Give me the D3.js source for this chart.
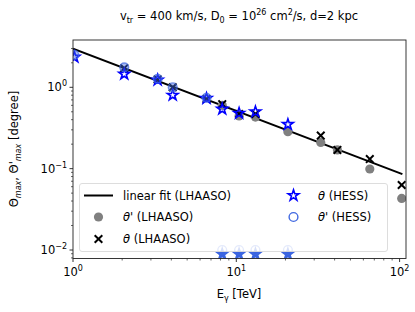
<!DOCTYPE html>
<html><head><meta charset="utf-8">
<script src="https://cdn.jsdelivr.net/npm/d3@7"></script>
<style>body{margin:0;background:#fff}svg{display:block}text{font-family:"DejaVu Sans",sans-serif;fill:#000}</style>
</head><body><svg id="c" width="415" height="312"></svg>
<script>
// Data
const fitE = [1.0, 104];
const fitTheta = [2.99, 0.0855];
const lhaasoPrimeE = [8.2, 10.4, 13.1, 20.7, 32.9, 41.6, 65.7, 103];
const lhaasoPrimeTheta = [0.60, 0.445, 0.43, 0.285, 0.21, 0.17, 0.099, 0.043];
const lhaasoE = [2.06, 3.3, 4.08, 6.57, 8.2, 10.4, 13.1, 32.9, 41.6, 65.7, 103];
const lhaasoTheta = [1.72, 1.25, 1.0, 0.72, 0.62, 0.47, 0.47, 0.255, 0.17, 0.131, 0.063];
const hessE = [1.02, 2.06, 3.3, 4.08, 6.57, 8.2, 10.4, 13.1, 20.7, 8.2, 10.4, 13.1, 20.7];
const hessTheta = [2.35, 1.45, 1.23, 0.80, 0.73, 0.54, 0.48, 0.50, 0.35, 0.0089, 0.0089, 0.0089, 0.0089];
const hessPrimeE = [1.02, 2.06, 3.3, 4.08, 6.57, 8.2, 10.4, 13.1, 20.7];
const hessPrimeTheta = [2.5, 1.76, 1.27, 1.0, 0.74, 0.0100, 0.0100, 0.0100, 0.0100];
const xTicks = [1, 10, 100];
const yTicks = [0.01, 0.1, 1];
const xTickLabels = ["0", "1", "2"];
const yTickLabels = ["\u22122", "\u22121", "0"];

const svg = d3.select("#c");
const L = 73, T = 40, R = 406, B = 258.5;
const x = d3.scaleLog().domain([1, Math.pow(10, (R - L) / 163.3)]).range([L, R]);
const y = d3.scaleLog().domain([Math.pow(10, -2 - 8.5 / 81.35), Math.pow(10, 47.3 / 81.35)]).range([B, T]);

svg.append("defs").append("clipPath").attr("id", "cp").append("rect")
  .attr("x", L).attr("y", T).attr("width", R - L).attr("height", B - T);

function minors(dom) {
  const out = [];
  for (let p = -3; p <= 3; p++) for (let k = 2; k <= 9; k++) {
    const v = k * Math.pow(10, p);
    if (v > dom[0] && v < dom[1]) out.push(v);
  }
  return out;
}
const ax = svg.append("g").attr("stroke", "#000");
minors(x.domain()).forEach(v => ax.append("line").attr("x1", x(v)).attr("x2", x(v)).attr("y1", B).attr("y2", B + 2).attr("stroke-width", 0.6));
xTicks.forEach(v => ax.append("line").attr("x1", x(v)).attr("x2", x(v)).attr("y1", B).attr("y2", B + 3.5).attr("stroke-width", 0.8));
minors(y.domain()).forEach(v => ax.append("line").attr("y1", y(v)).attr("y2", y(v)).attr("x1", L).attr("x2", L - 2).attr("stroke-width", 0.6));
yTicks.forEach(v => ax.append("line").attr("y1", y(v)).attr("y2", y(v)).attr("x1", L).attr("x2", L - 3.5).attr("stroke-width", 0.8));

xTicks.forEach((v, i) => {
  const t = svg.append("text").attr("x", x(v)).attr("y", B + 17).attr("text-anchor", "middle").attr("font-size", 11.5);
  t.append("tspan").text("10");
  t.append("tspan").attr("dy", -5).attr("font-size", 8).text(xTickLabels[i]);
});
yTicks.forEach((v, i) => {
  const t = svg.append("text").attr("x", L - 6).attr("y", y(v) + 4).attr("text-anchor", "end").attr("font-size", 11.5);
  t.append("tspan").text("10");
  t.append("tspan").attr("dy", -5).attr("font-size", 8).text(yTickLabels[i]);
});

const d = svg.append("g").attr("clip-path", "url(#cp)");
d.append("path").datum(fitE.map((e, i) => [e, fitTheta[i]]))
  .attr("d", d3.line().x(p => x(p[0])).y(p => y(p[1])))
  .attr("stroke", "#000").attr("stroke-width", 2).attr("fill", "none");

const starPath = d3.symbol().type(d3.symbolStar).size(36)();
function cross(sel, cx, cy, s) {
  sel.append("path").attr("d", `M${cx - s},${cy - s}L${cx + s},${cy + s}M${cx - s},${cy + s}L${cx + s},${cy - s}`)
    .attr("stroke", "#000").attr("stroke-width", 2).attr("fill", "none");
}
lhaasoPrimeE.forEach((e, i) => d.append("circle").attr("cx", x(e)).attr("cy", y(lhaasoPrimeTheta[i])).attr("r", 4.6).attr("fill", "#808080"));
lhaasoE.forEach((e, i) => cross(d, x(e), y(lhaasoTheta[i]), 3.8));
hessE.forEach((e, i) => d.append("path").attr("d", starPath).attr("transform", `translate(${x(e)},${y(hessTheta[i])})`)
  .attr("fill", i >= 9 ? "#3a64e0" : "none").attr("stroke", i >= 9 ? "#3a64e0" : "#0000ff").attr("stroke-width", 1.6));
hessPrimeE.forEach((e, i) => d.append("circle").attr("cx", x(e)).attr("cy", y(hessPrimeTheta[i])).attr("r", 4.4)
  .attr("fill", i < 5 ? "rgba(65,105,225,0.45)" : "none").attr("stroke", "#4169e1").attr("stroke-opacity", 0.7).attr("stroke-width", 1.4));

svg.append("rect").attr("x", L).attr("y", T).attr("width", R - L).attr("height", B - T)
  .attr("fill", "none").attr("stroke", "#222").attr("stroke-width", 0.9);

const lg = svg.append("g");
lg.append("rect").attr("x", 79.5).attr("y", 183.5).attr("width", 308).attr("height", 68).attr("rx", 2.5)
  .attr("fill", "rgba(255,255,255,0.8)").attr("stroke", "#d9d9d9").attr("stroke-width", 0.9);
const rows = [195.5, 217, 239];
lg.append("line").attr("x1", 84).attr("x2", 113).attr("y1", rows[0]).attr("y2", rows[0]).attr("stroke", "#000").attr("stroke-width", 2);
lg.append("circle").attr("cx", 98.5).attr("cy", rows[1]).attr("r", 4.6).attr("fill", "#808080");
cross(lg, 98.5, rows[2], 3.8);
lg.append("path").attr("d", starPath).attr("transform", `translate(293.5,${rows[0]})`).attr("fill", "none").attr("stroke", "#0000ff").attr("stroke-width", 1.6);
lg.append("circle").attr("cx", 293.5).attr("cy", rows[1]).attr("r", 4.4).attr("fill", "none").attr("stroke", "#4169e1").attr("stroke-width", 1.4);
function ltext(xx, yy, parts) {
  const t = lg.append("text").attr("x", xx).attr("y", yy + 4).attr("font-size", 11.5);
  parts.forEach(p => t.append("tspan").attr("font-style", p[1] ? "italic" : null).text(p[0]));
}
ltext(123, rows[0], [["linear fit (LHAASO)", false]]);
ltext(123, rows[1], [["\u03b8", true], ["' (LHAASO)", false]]);
ltext(123, rows[2], [["\u03b8", true], [" (LHAASO)", false]]);
ltext(318, rows[0], [["\u03b8", true], [" (HESS)", false]]);
ltext(318, rows[1], [["\u03b8", true], ["' (HESS)", false]]);

const tt = svg.append("text").attr("x", 239).attr("y", 20).attr("text-anchor", "middle").attr("font-size", 11.5);
tt.append("tspan").text("v");
tt.append("tspan").attr("font-size", 8).attr("dy", 3).text("tr");
tt.append("tspan").attr("dy", -3).text(" = 400 km/s, D");
tt.append("tspan").attr("font-size", 8).attr("dy", 3).text("0");
tt.append("tspan").attr("dy", -3).text(" = 10");
tt.append("tspan").attr("font-size", 8).attr("dy", -5).text("26");
tt.append("tspan").attr("dy", 5).text(" cm");
tt.append("tspan").attr("font-size", 8).attr("dy", -5).text("2");
tt.append("tspan").attr("dy", 5).text("/s, d=2 kpc");

const xl = svg.append("text").attr("x", 239).attr("y", 298).attr("text-anchor", "middle").attr("font-size", 11.5);
xl.append("tspan").text("E");
xl.append("tspan").attr("font-size", 8).attr("dy", 3).text("\u03b3");
xl.append("tspan").attr("dy", -3).text(" [TeV]");

const yl = svg.append("text").attr("transform", "translate(18,149) rotate(-90)").attr("text-anchor", "middle").attr("font-size", 11.5);
yl.append("tspan").text("\u0398");
yl.append("tspan").attr("font-size", 8).attr("dy", 3).attr("font-style", "italic").text("max");
yl.append("tspan").attr("dy", -3).text(", \u0398'");
yl.append("tspan").attr("font-size", 8).attr("dy", 3).attr("font-style", "italic").text("max");
yl.append("tspan").attr("dy", -3).text(" [degree]");
</script></body></html>
